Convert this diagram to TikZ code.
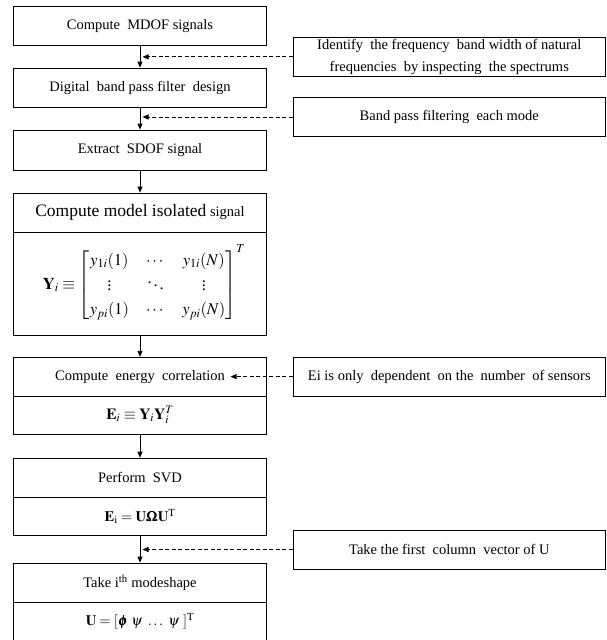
\documentclass[tikz,border=0pt]{standalone}
\usepackage{amsmath}
\usepackage{mathptmx}
\usepackage{bm}
\usepackage{fontspec}
\setmainfont{Liberation Serif}
\usetikzlibrary{arrows.meta,calc}
\begin{document}
\begin{tikzpicture}[x=1pt,y=-1pt,
  box/.style={draw=black,line width=0.8pt,minimum width=253.4pt,inner sep=0pt,
    font=\fontsize{14.5}{17}\selectfont,anchor=center,align=center},
  rbox/.style={box,minimum width=312pt},
  flow/.style={line width=0.8pt,-{Triangle[length=6pt,width=5pt]}},
  hint/.style={flow,dash pattern=on 4pt off 2.5pt}]
\useasboundingbox (0,0) rectangle (607,640);
% left column
\node[box,minimum height=38.3pt] (b1) at (140,25.85) {Compute\ \ MDOF signals};
\node[box,minimum height=39pt] (b2) at (140,87.5) {Digital\ \ band pass filter\ \ design};
\node[box,minimum height=40pt] (b3) at (140,150) {Extract\ \ SDOF signal};
\node[box,minimum height=39pt] (b4h) at (140,212.5) {{\fontsize{17.5}{20}\selectfont Compute model isolated} signal};
\node[box,minimum height=103pt,font=\fontsize{16.5}{17}\selectfont] (b4b) at (140,283.5) {\hspace*{8pt}$\def\arraystretch{1.45}\setlength{\arraycolsep}{8.5pt}\mathbf{Y}_{i} \equiv \begin{bmatrix} y_{1i}(1) & \cdots & y_{1i}(N)\\ \vdots & \ddots & \vdots\\ y_{pi}(1) & \cdots & y_{pi}(N)\end{bmatrix}^{T}$};
\node[box,minimum height=39.5pt] (b5h) at (140,377) {Compute\ \ energy\ \ correlation};
\node[box,minimum height=37.5pt,font=\fontsize{15.5}{17}\selectfont] (b5b) at (140,415.25) {$\mathbf{E}_{i} \equiv \mathbf{Y}_{i}\mathbf{Y}_{i}^{T}$};
\node[box,minimum height=39.5pt] (b6h) at (140,477.85) {Perform\ \ SVD};
\node[box,minimum height=38pt] (b6b) at (140,516.5) {$\mathbf{E}_{\mathrm{i}} = \mathbf{U}\bm{\Omega}\mathbf{U}^{\mathrm{T}}$};
\node[box,minimum height=39.5pt] (b7h) at (140,582.75) {Take i\textsuperscript{th} modeshape};
\node[box,minimum height=38pt] (b7b) at (140,621.5) {$\mathbf{U} = [\bm{\phi}\ \psi\ \ldots\ \psi\ ]^{\mathrm{T}}$};
% right column
\node[rbox,minimum height=38.3pt,font=\fontsize{14.5}{21.6}\selectfont] (r1) at (449.3,56.85)
  {Identify\ \ the frequency\ \ band width of natural\\frequencies\ \ by inspecting\ \ the spectrums};
\node[rbox,minimum height=39.4pt] (r2) at (449.3,117) {Band pass filtering\ \ each mode};
\node[rbox,minimum height=38.7pt] (r3) at (449.3,376.65) {Ei is only\ \ dependent\ \ on the\ \ number\ \ of sensors};
\node[rbox,minimum height=39pt] (r4) at (449.3,549.5) {Take the first\ \ column\ \ vector of U};
\coordinate (e5) at (230.5,376.65);
% connectors
\draw[flow] (b1) -- (b2);
\draw[flow] (b2) -- (b3);
\draw[flow] (b3) -- (b4h);
\draw[flow] (b4b) -- (b5h);
\draw[flow] (b5b) -- (b6h);
\draw[flow] (b6b) -- (b7h);
\draw[hint,shorten >=2.5pt] (r1.west) -- (r1.west -| b1.south);
\draw[hint,shorten >=2.5pt] (r2.west) -- (r2.west -| b2.south);
\draw[hint] (r3.west) -- (e5);
\draw[hint,shorten >=2.5pt] (r4.west) -- (r4.west -| b6b.south);
\end{tikzpicture}
\end{document}
